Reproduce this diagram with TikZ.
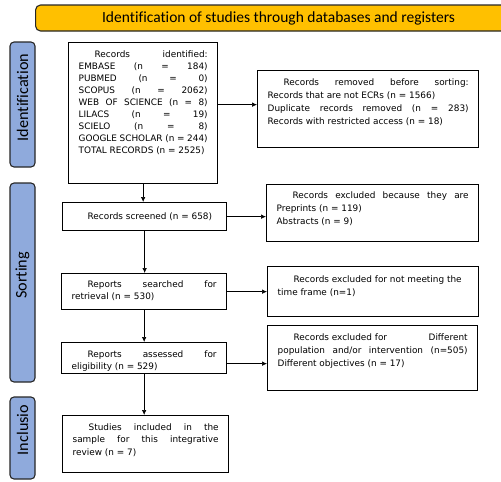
\documentclass[tikz,border=0pt]{standalone}
\usepackage{fontspec}
\setmainfont{DejaVu Sans}
\newfontfamily\headfont[Ligatures=NoCommon]{Carlito}
\usetikzlibrary{arrows.meta}
\definecolor{titlebar}{HTML}{FFC000}
\definecolor{stage}{HTML}{8FAADC}
\definecolor{edge}{HTML}{262626}
\tikzset{box/.style={draw=black,line width=1.3pt,inner xsep=10pt,inner ysep=0pt,
  anchor=north west,font=\fontsize{8.9}{12}\selectfont},
  wide/.style={font=\fontsize{8.9}{13}\selectfont},
  stagebox/.style={draw=edge,fill=stage,rounded corners=4pt,line width=1.1pt,rotate=90,
  minimum height=25pt,inner sep=0pt,font=\headfont\fontsize{16.2}{17}\selectfont},
  flow/.style={-{Latex[length=5pt,width=4.5pt]},line width=0.6pt}}
% top-aligned text in a box of fixed size
\newcommand{\boxtext}[4][14.5pt]{\parbox[t][#3][t]{#2}{\rule{0pt}{#1}#4}}

\begin{document}
\begin{tikzpicture}[x=1pt,y=-1pt]
\useasboundingbox (0,0) rectangle (501,482);
\clip (0,0) rectangle (501,482);
\node[draw=edge,fill=titlebar,rounded corners=5pt,line width=1.1pt,minimum width=486pt,
  minimum height=26pt,anchor=west,font=\headfont\fontsize{15.5}{16}\selectfont] (title) at (35,18)
  {Identification of studies through databases and registers};
% stages
\node[stagebox,minimum width=125pt] (ident) at (22.5,104.5) {\hspace*{14pt}Identification};
\node[stagebox,minimum width=199pt] (sort) at (22.5,282.5) {\hspace*{14pt}Sorting};
\node[stagebox,minimum width=82pt] (inclstage) at (22.5,438) {\hspace*{16pt}Inclusio};
% main column
\node[box] (id) at (68,42) {\boxtext{129pt}{141pt}{\hspace*{16pt}Records\hfill identified:\\
  EMBASE\hfill (n\hfill =\hfill 184)\\
  PUBMED\hfill (n\hfill =\hfill 0)\\
  SCOPUS\hfill (n\hfill =\hfill 2062)\\
  WEB\hfill OF\hfill SCIENCE\hfill (n\hfill =\hfill 8)\\
  LILACS\hfill (n\hfill =\hfill 19)\\
  SCIELO\hfill (n\hfill =\hfill 8)\\
  GOOGLE\hfill SCHOLAR\hfill (n\hfill =\hfill 244)\\
  TOTAL RECORDS (n = 2525)}};
\node[box] (screened) at (62,202) {\boxtext[16.5pt]{144pt}{28pt}{\hspace*{15pt}Records screened (n = 658)}};
\node[box] (retr) at (61,273) {\boxtext[13.5pt]{145pt}{36pt}{\hspace*{16pt}Reports\hfill searched\hfill for\\
  retrieval (n = 530)}};
\node[box] (assessed) at (61,342) {\boxtext{145pt}{31pt}{\hspace*{16pt}Reports\hfill assessed\hfill for\\
  eligibility (n = 529)}};
\node[box,font=\fontsize{8.9}{12.5}\selectfont] (studies) at (62,415) {\boxtext{146pt}{57pt}{\hspace*{16pt}Studies\hfill included\hfill in\hfill the\\
  sample\hfill for\hfill this\hfill integrative\\
  review (n = 7)}};
% exclusions
\node[box,wide] (removed) at (257,70) {\boxtext{201pt}{77pt}{\hspace*{16pt}Records\hfill removed\hfill before\hfill sorting:\\
  Records that are not ECRs (n = 1566)\\
  Duplicate\hfill records\hfill removed\hfill (n\hfill =\hfill 283)\\
  Records with restricted access (n = 18)}};
\node[box,wide] (excl1) at (266,184) {\boxtext[13.5pt]{192pt}{57pt}{\hspace*{16pt}Records\hfill excluded\hfill because\hfill they\hfill are\\
  Preprints (n = 119)\\
  Abstracts (n = 9)}};
\node[box,wide] (excl2) at (267,266) {\boxtext[16pt]{191pt}{50pt}{\hspace*{16pt}Records excluded for not meeting the\\
  time frame (n=1)}};
\node[box,wide] (excl3) at (267,325) {\boxtext{190pt}{65pt}{\hspace*{16pt}Records excluded for\hfill Different\\
  population\hfill and/or\hfill intervention\hfill (n=505)\\
  Different objectives (n = 17)}};
% connectors
\draw[flow] (id.south) -- (id.south |- screened.north);
\draw[flow] (screened.south) -- (screened.south |- retr.north);
\draw[flow] (retr.south) -- (retr.south |- assessed.north);
\draw[flow] (assessed.south) -- (assessed.south |- studies.north);
\draw[flow] ([yshift=8.5pt]id.east) -- ([yshift=8.5pt]id.east -| removed.west);
\draw[flow] (screened.east) -- (screened.east -| excl1.west);
\draw[flow] (retr.east) -- (retr.east -| excl2.west);
\draw[flow] ([yshift=-5.5pt]assessed.east) -- ([yshift=-5.5pt]assessed.east -| excl3.west);
\end{tikzpicture}
\end{document}
